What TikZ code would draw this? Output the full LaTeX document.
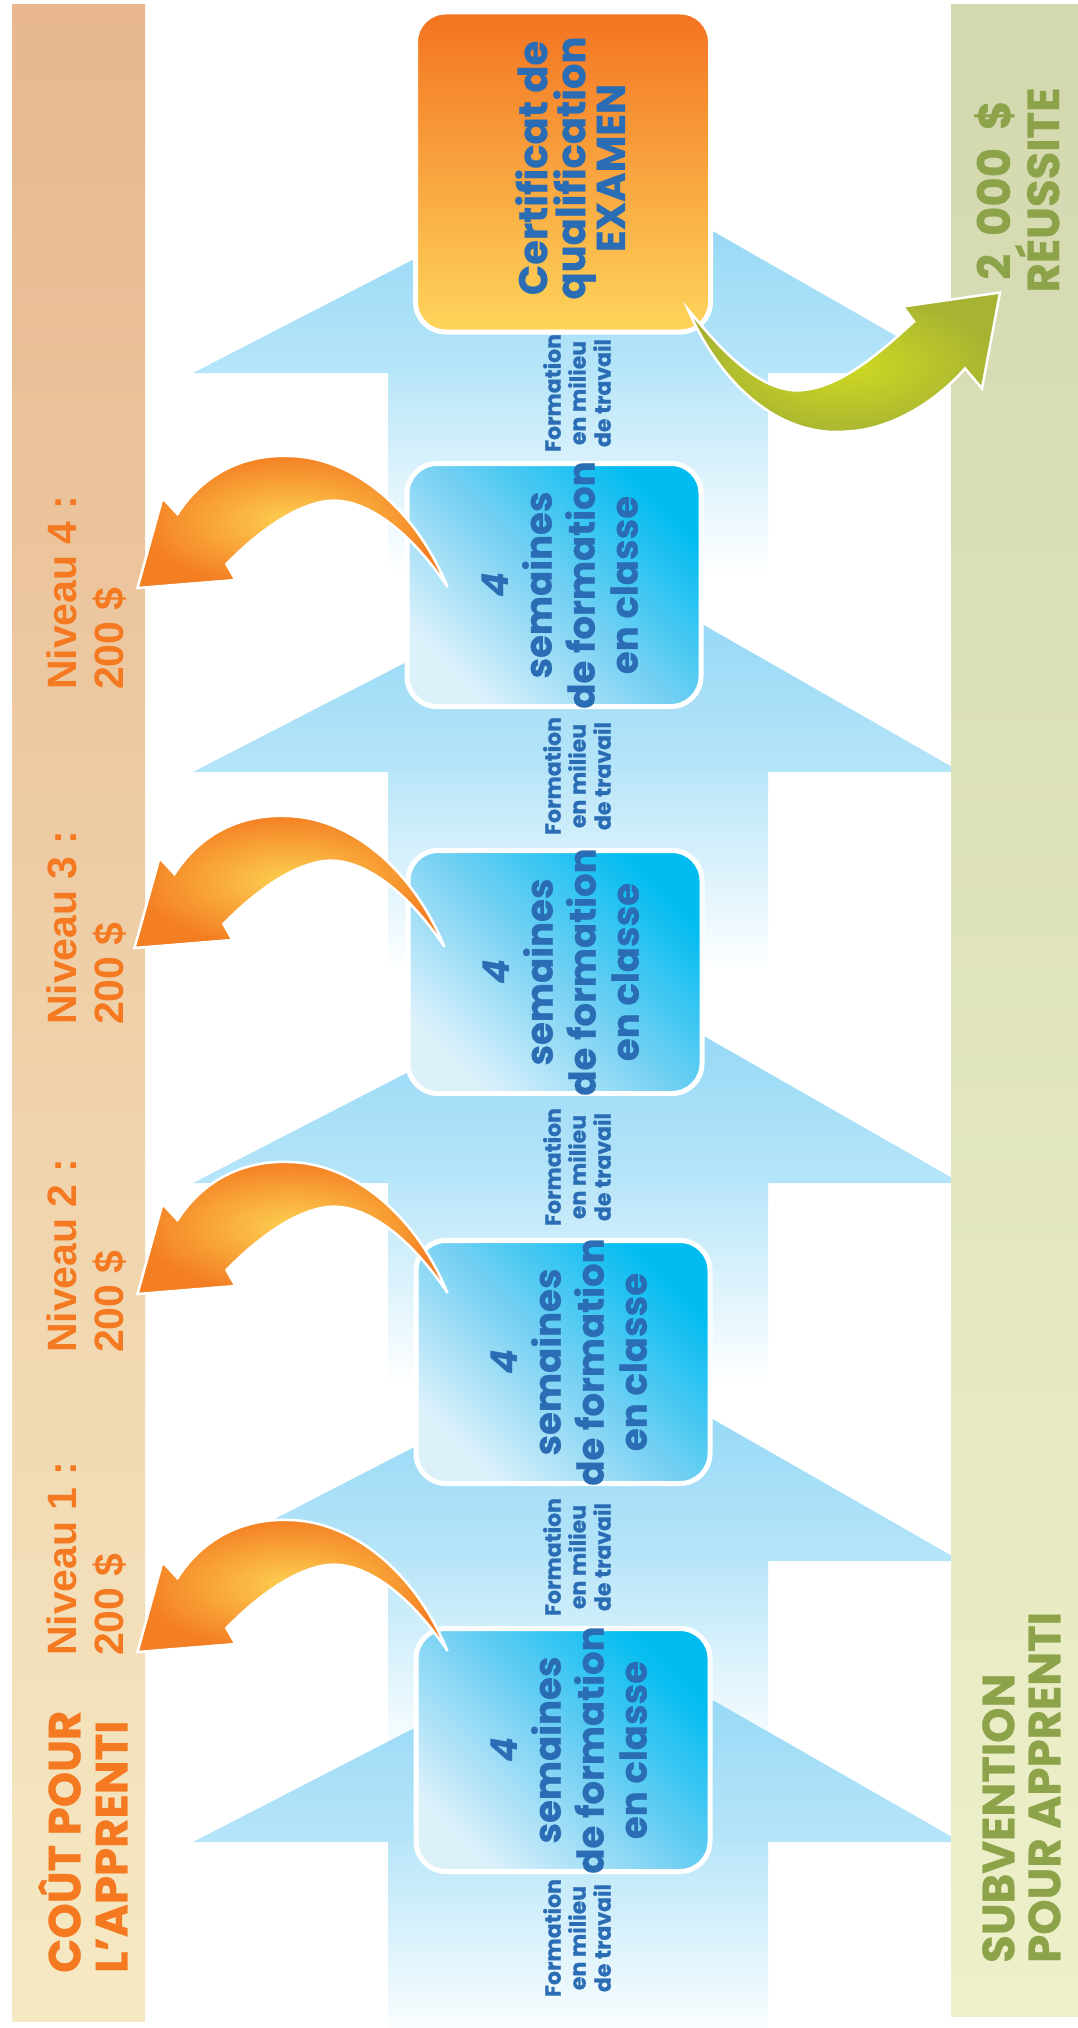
\documentclass[tikz,border=0pt]{standalone}
\usepackage{fontspec}
\newfontfamily\popfont{Poppins}[BoldFeatures={FakeBold=0.6}]
\newfontfamily\libsans{Liberation Sans}
\usetikzlibrary{calc}
\definecolor{bandLa}{HTML}{E8B78E}
\definecolor{bandLb}{HTML}{F5E9C4}
\definecolor{bandRa}{HTML}{D3D8AF}
\definecolor{bandRb}{HTML}{EEF0C9}
\definecolor{txtO}{HTML}{F47920}
\definecolor{txtG}{HTML}{8CA34A}
\definecolor{txtB}{HTML}{2A6DB5}
\definecolor{headT}{HTML}{8BD4F4}
\definecolor{headB}{HTML}{B6E5F9}
\definecolor{shaftT}{HTML}{B9E6F9}
\definecolor{boxC}{HTML}{00BCF1}
\definecolor{boxM}{HTML}{74D0F3}
\definecolor{boxL}{HTML}{DDF1FB}
\definecolor{certT}{HTML}{F37321}
\definecolor{certB}{HTML}{FED55B}
\definecolor{orY}{HTML}{FDD152}
\definecolor{orO}{HTML}{F47E22}
\definecolor{grY}{HTML}{CFDA22}
\definecolor{grO}{HTML}{A7B332}
\begin{document}
\begin{tikzpicture}[x=1pt,y=-1pt,
  bluebox/.style={rectangle, rounded corners=30, draw=white, line width=5,
    minimum width=294, minimum height=243, inner sep=0,
    top color=boxC, bottom color=boxL, middle color=boxM, shading angle=-45},
  certbox/.style={rectangle, rounded corners=30, draw=white, line width=5,
    minimum width=295, minimum height=320, inner sep=0,
    top color=certT, bottom color=certB},
  boxtxt/.style={rotate=90, align=center, inner sep=0, text=txtB,
    font=\popfont\bfseries\fontsize{37}{43}\selectfont},
  certtxt/.style={rotate=90, align=center, inner sep=0, text=txtB,
    font=\popfont\bfseries\fontsize{40}{38}\selectfont},
  lbltxt/.style={rotate=90, align=center, inner sep=0, text=txtB,
    font=\popfont\bfseries\fontsize{22}{25}\selectfont},
  bandtxt/.style={rotate=90, align=left, inner sep=0, anchor=north west, text=txtO,
    font=\popfont\bfseries\fontsize{45}{47}\selectfont},
  nivtxt/.style={rotate=90, align=left, inner sep=0, anchor=north west, text=txtO,
    font=\libsans\bfseries\fontsize{41}{47}\selectfont},
  subtxt/.style={rotate=90, align=left, inner sep=0, anchor=north west, text=txtG,
    font=\popfont\bfseries\fontsize{45}{46}\selectfont},
  reutxt/.style={rotate=90, align=center, inner sep=0, text=txtG,
    font=\popfont\bfseries\fontsize{45}{47}\selectfont},
  orarrow/.pic={
    \shade[inner color=orY, outer color=orO, draw=white, line width=2.5, line join=miter]
      (-310,1) -- (-285,-89) -- (-270,-73)
      .. controls (-245,-112) and (-205,-133) .. (-158,-131)
      .. controls (-100,-130) and (-35,-85) .. (0,0)
      .. controls (-40,-60) and (-85,-90) .. (-120,-86)
      .. controls (-155,-82) and (-195,-50) .. (-221,-23)
      -- (-212,-7) -- cycle;
  },
  grarrow/.pic={
    \shade[inner color=grY, outer color=grO, draw=white, line width=2.5, line join=miter]
      (0,0) .. controls (35,80) and (95,128) .. (159,122)
      .. controls (205,120) and (250,90) .. (277,59)
      -- (294,79) -- (312,-17) -- (215,-3) -- (226,12)
      .. controls (190,45) and (150,80) .. (109,81)
      .. controls (65,80) and (25,30) .. (0,0) -- cycle;
  }
]
\useasboundingbox (0,0) rectangle (1078,2028);
\fill[white] (0,0) rectangle (1078,2028);

% blue arrow shafts and heads
\foreach \b in {373,772,1183,1561,1842} {
  \shade[top color=shaftT, bottom color=white] (388,\b) rectangle (768,\b+200);
}
\foreach \b in {373,772,1183,1561,1842} {
  \shade[top color=headT, bottom color=headB] (193,\b) -- (597,\b-208) -- (961,\b) -- cycle;
}

% side bands
\shade[top color=bandLa, bottom color=bandLb] (12,5) rectangle (145,2021);
\shade[top color=bandRa, bottom color=bandRb] (951,5) rectangle (1078,2016);

% boxes
\node[certbox] (cert) at (563,172) {};
\node[bluebox] (b4) at (554,585) {};
\node[bluebox] (b3) at (555,972) {};
\node[bluebox] (b2) at (563,1362) {};
\node[bluebox] (b1) at (563,1750) {};

\node[certtxt] (certt) at ($(cert.center)+(7,-4)$) {Certificat de\\qualification\\EXAMEN};
\node[boxtxt] (t4) at ($(b4.center)+(6,0)$) {{\itshape 4}\\semaines\\de formation\\en classe};
\node[boxtxt] (t3) at ($(b3.center)+(6,0)$) {{\itshape 4}\\semaines\\de formation\\en classe};
\node[boxtxt] (t2) at ($(b2.center)+(6,0)$) {{\itshape 4}\\semaines\\de formation\\en classe};
\node[boxtxt] (t1) at ($(b1.center)+(6,0)$) {{\itshape 4}\\semaines\\de formation\\en classe};

% work-place training labels
\node[lbltxt] (w5) at (577,393) {Formation\\en milieu\\de travail};
\node[lbltxt] (w4) at (577,776) {Formation\\en milieu\\de travail};
\node[lbltxt] (w3) at (577,1167) {Formation\\en milieu\\de travail};
\node[lbltxt] (w2) at (577,1557) {Formation\\en milieu\\de travail};
\node[lbltxt] (w1) at (577,1938) {Formation\\en milieu\\de travail};

% band texts
\node[bandtxt] (cout) at (38,1973) {COÛT POUR\\L’APPRENTI};
\node[nivtxt] (n1) at (47,1656) {Niveau 1 :\\200 \$};
\node[nivtxt] (n2) at (47,1353) {Niveau 2 :\\200 \$};
\node[nivtxt] (n3) at (47,1025) {Niveau 3 :\\200 \$};
\node[nivtxt] (n4) at (47,690) {Niveau 4 :\\200 \$};
\node[subtxt] (subv) at (982,1963) {SUBVENTION\\POUR APPRENTI};
\node[reutxt] (reus) at (1017,190) {2\hspace{0.4em}000\hspace{0.4em}\$\\RÉUSSITE};

% curved arrows
\coordinate (o4) at ($(b4.north west)+(43,126)$);
\coordinate (o3) at ($(b3.north west)+(39,99)$);
\coordinate (o2) at ($(b2.north west)+(34,55)$);
\coordinate (o1) at ($(b1.north west)+(34,25)$);
\pic at (o4) {orarrow};
\pic at (o3) {orarrow};
\pic at (o2) {orarrow};
\pic at (o1) {orarrow};
\coordinate (gt) at ($(cert.south east)+(-25,-25)$);
\pic at (gt) {grarrow};
\end{tikzpicture}
\end{document}
